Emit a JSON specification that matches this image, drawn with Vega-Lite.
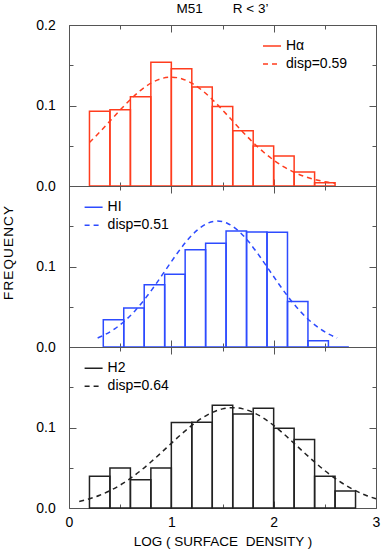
{
  "$schema": "https://vega.github.io/schema/vega-lite/v6.json",
  "background": "white",
  "padding": {"left": 0, "top": 1, "right": 5, "bottom": 3},
  "spacing": 0,
  "bounds": "flush",
  "config": {
    "font": "Liberation Sans",
    "view": {"stroke": "#555", "strokeWidth": 1},
    "axis": {"domain": false, "grid": false, "tickColor": "#555", "tickWidth": 1, "labelFontSize": 14, "labelColor": "#000", "labelFlush": false, "labelOverlap": false, "labelBound": false, "titleFontWeight": "normal", "titleColor": "#000", "minExtent": 0},
    "legend": {"symbolType": "stroke", "symbolSize": 324, "symbolStrokeWidth": 1.5, "labelFontSize": 14, "labelColor": "#000", "labelOffset": 4, "rowPadding": 0, "clipHeight": 18, "orient": "none", "title": null}
  },
  "datasets": {
    "ha_bars": [
      {"lo": 0.2, "hi": 0.4, "freq": 0.093},
      {"lo": 0.4, "hi": 0.6, "freq": 0.0946},
      {"lo": 0.6, "hi": 0.8, "freq": 0.111},
      {"lo": 0.8, "hi": 1.0, "freq": 0.1537},
      {"lo": 1.0, "hi": 1.2, "freq": 0.1455},
      {"lo": 1.2, "hi": 1.4, "freq": 0.123},
      {"lo": 1.4, "hi": 1.6, "freq": 0.0988},
      {"lo": 1.6, "hi": 1.8, "freq": 0.0686},
      {"lo": 1.8, "hi": 2.0, "freq": 0.0496},
      {"lo": 2.0, "hi": 2.2, "freq": 0.0372},
      {"lo": 2.2, "hi": 2.4, "freq": 0.0174},
      {"lo": 2.4, "hi": 2.6, "freq": 0.004}
    ],
    "ha_fit": [
      {"x": 0.2, "f": 0.05393, "kind": "disp=0.59"},
      {"x": 0.3, "f": 0.0669, "kind": "disp=0.59"},
      {"x": 0.4, "f": 0.08064, "kind": "disp=0.59"},
      {"x": 0.5, "f": 0.09444, "kind": "disp=0.59"},
      {"x": 0.6, "f": 0.10748, "kind": "disp=0.59"},
      {"x": 0.7, "f": 0.11884, "kind": "disp=0.59"},
      {"x": 0.8, "f": 0.12769, "kind": "disp=0.59"},
      {"x": 0.9, "f": 0.13331, "kind": "disp=0.59"},
      {"x": 1.0, "f": 0.13524, "kind": "disp=0.59"},
      {"x": 1.1, "f": 0.13331, "kind": "disp=0.59"},
      {"x": 1.2, "f": 0.12769, "kind": "disp=0.59"},
      {"x": 1.3, "f": 0.11884, "kind": "disp=0.59"},
      {"x": 1.4, "f": 0.10748, "kind": "disp=0.59"},
      {"x": 1.5, "f": 0.09444, "kind": "disp=0.59"},
      {"x": 1.6, "f": 0.08064, "kind": "disp=0.59"},
      {"x": 1.7, "f": 0.0669, "kind": "disp=0.59"},
      {"x": 1.8, "f": 0.05393, "kind": "disp=0.59"},
      {"x": 1.9, "f": 0.04225, "kind": "disp=0.59"},
      {"x": 2.0, "f": 0.03216, "kind": "disp=0.59"},
      {"x": 2.1, "f": 0.02379, "kind": "disp=0.59"},
      {"x": 2.2, "f": 0.0171, "kind": "disp=0.59"},
      {"x": 2.3, "f": 0.01194, "kind": "disp=0.59"},
      {"x": 2.4, "f": 0.0081, "kind": "disp=0.59"},
      {"x": 2.5, "f": 0.00534, "kind": "disp=0.59"},
      {"x": 2.6, "f": 0.00342, "kind": "disp=0.59"}
    ],
    "hi_bars": [
      {"lo": 0.335, "hi": 0.535, "freq": 0.0339},
      {"lo": 0.535, "hi": 0.735, "freq": 0.0483},
      {"lo": 0.735, "hi": 0.935, "freq": 0.0773},
      {"lo": 0.935, "hi": 1.135, "freq": 0.0905},
      {"lo": 1.135, "hi": 1.335, "freq": 0.1207},
      {"lo": 1.335, "hi": 1.535, "freq": 0.1289},
      {"lo": 1.535, "hi": 1.735, "freq": 0.1442},
      {"lo": 1.735, "hi": 1.935, "freq": 0.143},
      {"lo": 1.935, "hi": 2.135, "freq": 0.1426},
      {"lo": 2.135, "hi": 2.335, "freq": 0.0566},
      {"lo": 2.335, "hi": 2.535, "freq": 0.0079},
      {"lo": 2.535, "hi": 2.735, "freq": 0}
    ],
    "hi_fit": [
      {"x": 0.28, "f": 0.01126, "kind": "disp=0.51"},
      {"x": 0.35, "f": 0.01528, "kind": "disp=0.51"},
      {"x": 0.45, "f": 0.02288, "kind": "disp=0.51"},
      {"x": 0.55, "f": 0.03297, "kind": "disp=0.51"},
      {"x": 0.65, "f": 0.04572, "kind": "disp=0.51"},
      {"x": 0.75, "f": 0.061, "kind": "disp=0.51"},
      {"x": 0.85, "f": 0.07831, "kind": "disp=0.51"},
      {"x": 0.95, "f": 0.09675, "kind": "disp=0.51"},
      {"x": 1.05, "f": 0.11503, "kind": "disp=0.51"},
      {"x": 1.15, "f": 0.1316, "kind": "disp=0.51"},
      {"x": 1.25, "f": 0.14487, "kind": "disp=0.51"},
      {"x": 1.35, "f": 0.15347, "kind": "disp=0.51"},
      {"x": 1.45, "f": 0.15645, "kind": "disp=0.51"},
      {"x": 1.55, "f": 0.15347, "kind": "disp=0.51"},
      {"x": 1.65, "f": 0.14487, "kind": "disp=0.51"},
      {"x": 1.75, "f": 0.1316, "kind": "disp=0.51"},
      {"x": 1.85, "f": 0.11503, "kind": "disp=0.51"},
      {"x": 1.95, "f": 0.09675, "kind": "disp=0.51"},
      {"x": 2.05, "f": 0.07831, "kind": "disp=0.51"},
      {"x": 2.15, "f": 0.061, "kind": "disp=0.51"},
      {"x": 2.25, "f": 0.04572, "kind": "disp=0.51"},
      {"x": 2.35, "f": 0.03297, "kind": "disp=0.51"},
      {"x": 2.45, "f": 0.02288, "kind": "disp=0.51"},
      {"x": 2.55, "f": 0.01528, "kind": "disp=0.51"},
      {"x": 2.62, "f": 0.01126, "kind": "disp=0.51"}
    ],
    "h2_bars": [
      {"lo": 0.2, "hi": 0.4, "freq": 0.0393},
      {"lo": 0.4, "hi": 0.6, "freq": 0.0496},
      {"lo": 0.6, "hi": 0.8, "freq": 0.0351},
      {"lo": 0.8, "hi": 1.0, "freq": 0.0496},
      {"lo": 1.0, "hi": 1.2, "freq": 0.1062},
      {"lo": 1.2, "hi": 1.4, "freq": 0.1066},
      {"lo": 1.4, "hi": 1.6, "freq": 0.1277},
      {"lo": 1.6, "hi": 1.8, "freq": 0.1169},
      {"lo": 1.8, "hi": 2.0, "freq": 0.124},
      {"lo": 2.0, "hi": 2.2, "freq": 0.0992},
      {"lo": 2.2, "hi": 2.4, "freq": 0.0851},
      {"lo": 2.4, "hi": 2.6, "freq": 0.0393},
      {"lo": 2.6, "hi": 2.8, "freq": 0.0211}
    ],
    "h2_fit": [
      {"x": 0.1, "f": 0.008, "kind": "disp=0.64"},
      {"x": 0.2, "f": 0.01139, "kind": "disp=0.64"},
      {"x": 0.3, "f": 0.01584, "kind": "disp=0.64"},
      {"x": 0.4, "f": 0.0215, "kind": "disp=0.64"},
      {"x": 0.5, "f": 0.02846, "kind": "disp=0.64"},
      {"x": 0.6, "f": 0.03678, "kind": "disp=0.64"},
      {"x": 0.7, "f": 0.04638, "kind": "disp=0.64"},
      {"x": 0.8, "f": 0.05708, "kind": "disp=0.64"},
      {"x": 0.9, "f": 0.06855, "kind": "disp=0.64"},
      {"x": 1.0, "f": 0.08034, "kind": "disp=0.64"},
      {"x": 1.1, "f": 0.09188, "kind": "disp=0.64"},
      {"x": 1.2, "f": 0.10255, "kind": "disp=0.64"},
      {"x": 1.3, "f": 0.1117, "kind": "disp=0.64"},
      {"x": 1.4, "f": 0.11873, "kind": "disp=0.64"},
      {"x": 1.5, "f": 0.12316, "kind": "disp=0.64"},
      {"x": 1.6, "f": 0.12467, "kind": "disp=0.64"},
      {"x": 1.7, "f": 0.12316, "kind": "disp=0.64"},
      {"x": 1.8, "f": 0.11873, "kind": "disp=0.64"},
      {"x": 1.9, "f": 0.1117, "kind": "disp=0.64"},
      {"x": 2.0, "f": 0.10255, "kind": "disp=0.64"},
      {"x": 2.1, "f": 0.09188, "kind": "disp=0.64"},
      {"x": 2.2, "f": 0.08034, "kind": "disp=0.64"},
      {"x": 2.3, "f": 0.06855, "kind": "disp=0.64"},
      {"x": 2.4, "f": 0.05708, "kind": "disp=0.64"},
      {"x": 2.5, "f": 0.04638, "kind": "disp=0.64"},
      {"x": 2.6, "f": 0.03678, "kind": "disp=0.64"},
      {"x": 2.7, "f": 0.02846, "kind": "disp=0.64"},
      {"x": 2.8, "f": 0.0215, "kind": "disp=0.64"},
      {"x": 2.9, "f": 0.01584, "kind": "disp=0.64"},
      {"x": 3.0, "f": 0.01139, "kind": "disp=0.64"}
    ]
  },
  "vconcat": [
    {
      "width": 307, "height": 161,
      "title": {"text": "M51\u00a0\u00a0\u00a0\u00a0\u00a0\u00a0\u00a0\u00a0R < 3’", "fontSize": 13.5, "fontWeight": "normal", "offset": 3, "anchor": "middle", "color": "#000"},
      "layer": [
        {
          "data": {"name": "ha_bars"},
          "mark": {"type": "rect", "filled": false, "color": "#ff3c1e", "strokeWidth": 1.5},
          "encoding": {
            "x": {"field": "lo", "type": "quantitative", "scale": {"domain": [0, 3], "nice": false},
              "axis": {"orient": "bottom", "values": [0, 0.5, 1, 1.5, 2, 2.5, 3], "labels": false, "title": null,
                "tickSize": {"condition": {"test": "datum.value % 1 != 0", "value": -4}, "value": -7}}},
            "x2": {"field": "hi"},
            "y": {"field": "freq", "type": "quantitative", "scale": {"domain": [0, 0.2], "nice": false},
              "axis": {"orient": "left", "values": [0, 0.05, 0.1, 0.15, 0.2], "title": null, "labelPadding": 20.7,
                "labelExpr": "round(datum.value*100) % 10 == 0 ? format(datum.value, '.1f') : ''",
                "tickSize": {"condition": {"test": "round(datum.value*100) % 10 != 0", "value": -4}, "value": -7}}},
            "y2": {"datum": 0}
          }
        },
        {
          "data": {"name": "ha_fit"},
          "mark": {"type": "line", "color": "#ff3c1e", "strokeWidth": 1.5, "interpolate": "monotone"},
          "encoding": {
            "x": {"field": "x", "type": "quantitative",
              "axis": {"orient": "top", "values": [0, 0.5, 1, 1.5, 2, 2.5, 3], "labels": false, "title": null,
                "tickSize": {"condition": {"test": "datum.value % 1 != 0", "value": -4}, "value": -7}}},
            "y": {"field": "f", "type": "quantitative",
              "axis": {"orient": "right", "values": [0, 0.05, 0.1, 0.15, 0.2], "labels": false, "title": null,
                "tickSize": {"condition": {"test": "round(datum.value*100) % 10 != 0", "value": -4}, "value": -7}}},
            "strokeDash": {"field": "kind", "type": "nominal", "scale": {"domain": ["Hα", "disp=0.59"], "range": [[1, 0], [5, 4]]},
              "legend": {"orient": "none", "legendX": 193, "legendY": 12, "symbolStrokeColor": "#ff3c1e"}}
          }
        }
      ],
      "resolve": {"axis": {"x": "independent", "y": "independent"}}
    },
    {
      "width": 307, "height": 161,
      "layer": [
        {
          "data": {"name": "hi_bars"},
          "mark": {"type": "rect", "filled": false, "color": "#2d4bff", "strokeWidth": 1.5},
          "encoding": {
            "x": {"field": "lo", "type": "quantitative", "scale": {"domain": [0, 3], "nice": false},
              "axis": {"orient": "bottom", "values": [0, 0.5, 1, 1.5, 2, 2.5, 3], "labels": false, "title": null,
                "tickSize": {"condition": {"test": "datum.value % 1 != 0", "value": -4}, "value": -7}}},
            "x2": {"field": "hi"},
            "y": {"field": "freq", "type": "quantitative", "scale": {"domain": [0, 0.2], "nice": false},
              "axis": {"orient": "left", "values": [0, 0.05, 0.1, 0.15, 0.2], "labelPadding": 20.7,
                "labelExpr": "round(datum.value*100) % 10 == 0 && datum.value < 0.15 ? format(datum.value, '.1f') : ''",
                "tickSize": {"condition": {"test": "round(datum.value*100) % 10 != 0", "value": -4}, "value": -7},
                "title": "F\u200aR\u200aE\u200aQ\u200aU\u200aE\u200aN\u200aC\u200aY", "titleFontSize": 13.5, "titleX": -61, "titleY": 66.5, "titleAngle": -90, "titleAlign": "center", "titleBaseline": "middle"}},
            "y2": {"datum": 0}
          }
        },
        {
          "data": {"name": "hi_fit"},
          "mark": {"type": "line", "color": "#2d4bff", "strokeWidth": 1.5, "interpolate": "monotone"},
          "encoding": {
            "x": {"field": "x", "type": "quantitative",
              "axis": {"orient": "top", "values": [0, 0.5, 1, 1.5, 2, 2.5, 3], "labels": false, "title": null,
                "tickSize": {"condition": {"test": "datum.value % 1 != 0", "value": -4}, "value": -7}}},
            "y": {"field": "f", "type": "quantitative",
              "axis": {"orient": "right", "values": [0, 0.05, 0.1, 0.15, 0.2], "labels": false, "title": null,
                "tickSize": {"condition": {"test": "round(datum.value*100) % 10 != 0", "value": -4}, "value": -7}}},
            "strokeDash": {"field": "kind", "type": "nominal", "scale": {"domain": ["HI", "disp=0.51"], "range": [[1, 0], [5, 4]]},
              "legend": {"orient": "none", "legendX": 14.6, "legendY": 12.3, "symbolStrokeColor": "#2d4bff"}}
          }
        }
      ],
      "resolve": {"axis": {"x": "independent", "y": "independent"}}
    },
    {
      "width": 307, "height": 161,
      "layer": [
        {
          "data": {"name": "h2_bars"},
          "mark": {"type": "rect", "filled": false, "color": "#222222", "strokeWidth": 1.5},
          "encoding": {
            "x": {"field": "lo", "type": "quantitative", "scale": {"domain": [0, 3], "nice": false},
              "axis": {"orient": "bottom", "values": [0, 0.5, 1, 1.5, 2, 2.5, 3], "labelPadding": 14,
                "labelExpr": "datum.value % 1 == 0 ? format(datum.value, 'd') : ''",
                "tickSize": {"condition": {"test": "datum.value % 1 != 0", "value": -4}, "value": -7},
                "title": "LOG ( SURFACE\u00a0 DENSITY )", "titleFontSize": 13.5, "titlePadding": 2}},
            "x2": {"field": "hi"},
            "y": {"field": "freq", "type": "quantitative", "scale": {"domain": [0, 0.2], "nice": false},
              "axis": {"orient": "left", "values": [0, 0.05, 0.1, 0.15, 0.2], "title": null, "labelPadding": 20.7,
                "labelExpr": "round(datum.value*100) % 10 == 0 && datum.value < 0.15 ? format(datum.value, '.1f') : ''",
                "tickSize": {"condition": {"test": "round(datum.value*100) % 10 != 0", "value": -4}, "value": -7}}},
            "y2": {"datum": 0}
          }
        },
        {
          "data": {"name": "h2_fit"},
          "mark": {"type": "line", "color": "#222222", "strokeWidth": 1.5, "interpolate": "monotone"},
          "encoding": {
            "x": {"field": "x", "type": "quantitative",
              "axis": {"orient": "top", "values": [0, 0.5, 1, 1.5, 2, 2.5, 3], "labels": false, "title": null,
                "tickSize": {"condition": {"test": "datum.value % 1 != 0", "value": -4}, "value": -7}}},
            "y": {"field": "f", "type": "quantitative",
              "axis": {"orient": "right", "values": [0, 0.05, 0.1, 0.15, 0.2], "labels": false, "title": null,
                "tickSize": {"condition": {"test": "round(datum.value*100) % 10 != 0", "value": -4}, "value": -7}}},
            "strokeDash": {"field": "kind", "type": "nominal", "scale": {"domain": ["H2", "disp=0.64"], "range": [[1, 0], [5, 4]]},
              "legend": {"orient": "none", "legendX": 14.6, "legendY": 12.3, "symbolStrokeColor": "#222222"}}
          }
        }
      ],
      "resolve": {"axis": {"x": "independent", "y": "independent"}}
    }
  ],
  "resolve": {"scale": {"strokeDash": "independent"}, "legend": {"strokeDash": "independent"}}
}
